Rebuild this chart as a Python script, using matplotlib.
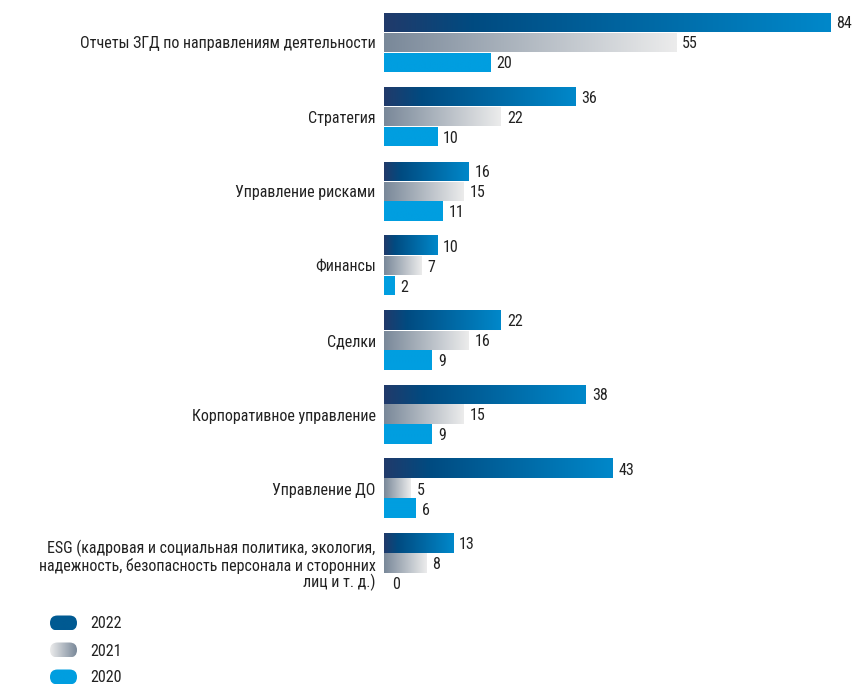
import numpy as np
import matplotlib
matplotlib.use("Agg")
import matplotlib.pyplot as plt
from matplotlib.colors import LinearSegmentedColormap
from matplotlib.patches import FancyBboxPatch

plt.rcParams['font.family'] = ['Roboto Condensed', 'DejaVu Sans']

categories = [
    "Отчеты ЗГД по направлениям деятельности",
    "Стратегия",
    "Управление рисками",
    "Финансы",
    "Сделки",
    "Корпоративное управление",
    "Управление ДО",
    "ESG (кадровая и социальная политика, экология,\nнадежность, безопасность персонала и сторонних\nлиц и т. д.)",
]
years = ["2022", "2021", "2020"]
v2022 = [84, 36, 16, 10, 22, 38, 43, 13]
v2021 = [55, 22, 15, 7, 16, 15, 5, 8]
v2020 = [20, 10, 11, 2, 9, 9, 6, 0]

cmap22 = LinearSegmentedColormap.from_list("c22", [(0, "#213a6a"), (0.2, "#004b81"), (1, "#0088ca")])
cmap21 = LinearSegmentedColormap.from_list("c21", [(0, "#798899"), (1, "#ececec")])
cmap20 = LinearSegmentedColormap.from_list("c20", ["#009ee0", "#009ee0"])
cmaps = [cmap22, cmap21, cmap20]

W, H = 856, 686
fig = plt.figure(figsize=(W / 100, H / 100), dpi=100)

lax = fig.add_axes([0, 0, 1, 1])
lax.set_xlim(0, W)
lax.set_ylim(H, 0)
lax.axis("off")

x0px = 384
pxu = 5.31
pitch = 74.4
c0 = 42.5
ax = fig.add_axes([x0px / W, 0, 1 - x0px / W, 1])
ax.patch.set_alpha(0)

FS = 11.5
TC = "#222222"
grad = np.linspace(0, 1, 256).reshape(1, -1)
bh = 19 / pitch
off = 20 / pitch
series = [v2022, v2021, v2020]
for i in range(len(categories)):
    for j, vals in enumerate(series):
        v = vals[i]
        yc = i + (j - 1) * off
        if v > 0:
            ax.imshow(grad, cmap=cmaps[j], aspect="auto", interpolation="bilinear",
                      extent=[0, v, yc + bh / 2, yc - bh / 2], zorder=2)
        ax.text(v + 6 / pxu if v > 0 else 8 / pxu, yc + 0.02, str(v), ha="left", va="center",
                fontsize=FS, color=TC)

ax.set_xlim(0, (W - x0px) / pxu)
ax.set_ylim((H - c0) / pitch, -c0 / pitch)
ax.set_yticks(range(len(categories)))
ax.set_yticklabels(categories, fontsize=FS, color=TC, linespacing=1.05)
ax.tick_params(axis="y", length=0, pad=6)
ax.set_xticks([])
for s in ax.spines.values():
    s.set_visible(False)

# legend
leg_y = [623, 650, 677]
cm22l = LinearSegmentedColormap.from_list("l22", ["#005a92", "#005a92"])
for k, yr in enumerate(years):
    y = leg_y[k]
    if k == 0:
        cm, g = cm22l, grad
    elif k == 1:
        cm, g = cmap21, grad[:, ::-1]
    else:
        cm, g = cmap20, grad
    im = lax.imshow(g, cmap=cm, aspect="auto", extent=[50, 77, y + 7.5, y - 7.5], interpolation="bilinear")
    patch = FancyBboxPatch((50, y - 7.5), 27, 15,
                           boxstyle="round,pad=0,rounding_size=7.5",
                           transform=lax.transData, facecolor="none", edgecolor="none")
    lax.add_patch(patch)
    im.set_clip_path(patch)
    lax.text(90, y + 1, yr, ha="left", va="center", fontsize=FS, color=TC)
lax.set_xlim(0, W)
lax.set_ylim(H, 0)

fig.savefig("out.png", dpi=100)
